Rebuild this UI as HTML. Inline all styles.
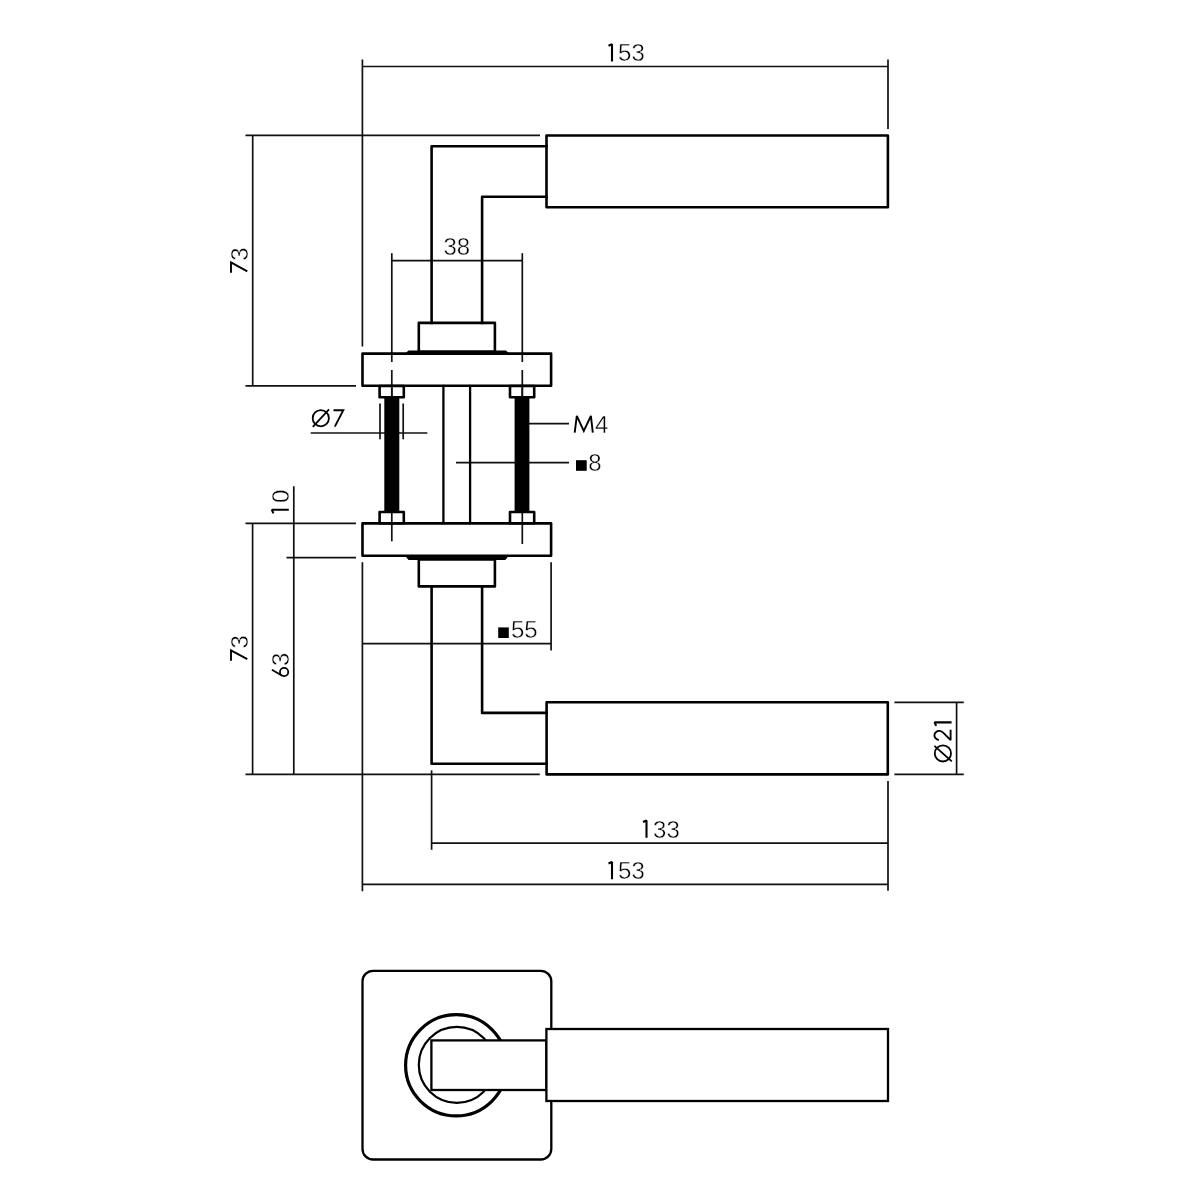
<!DOCTYPE html>
<html><head><meta charset="utf-8">
<style>
html,body{margin:0;padding:0;background:#fff;width:1200px;height:1200px;overflow:hidden}
svg{display:block;filter:grayscale(1)}
text{font-family:"Liberation Sans",sans-serif;font-size:24px;fill:#000;stroke:#fff;stroke-width:0.4px;stroke-linejoin:round}
.g1{stroke:#000;stroke-width:2.1;fill:none;stroke-linejoin:bevel}
.g7{stroke:#000;stroke-width:1.9;fill:none;stroke-linejoin:miter;stroke-miterlimit:4}
.t{stroke:#000;stroke-width:2.6;fill:none;stroke-linecap:square;stroke-linejoin:round}
.tw{stroke:#000;stroke-width:2.3;fill:#fff}
.d{stroke:#111;stroke-width:1.7;fill:none}
</style></head><body>
<svg width="1200" height="1200" viewBox="0 0 1200 1200">
<!-- ===== dimension lines ===== -->
<g class="d">
<!-- 153 top -->
<line x1="362.4" y1="66.5" x2="888" y2="66.5"/>
<line x1="362.4" y1="59.5" x2="362.4" y2="346.5"/>
<line x1="888" y1="59.5" x2="888" y2="129"/>
<!-- 73 top -->
<line x1="252.7" y1="135.3" x2="252.7" y2="385.8"/>
<line x1="245.5" y1="135.3" x2="540" y2="135.3"/>
<line x1="245.5" y1="385.8" x2="356" y2="385.8"/>
<!-- 38 -->
<line x1="391.8" y1="260.7" x2="522.3" y2="260.7"/>
<line x1="391.8" y1="253.2" x2="391.8" y2="362"/>
<line x1="391.8" y1="370" x2="391.8" y2="397"/>
<line x1="522.3" y1="253.2" x2="522.3" y2="362"/>
<line x1="522.3" y1="370" x2="522.3" y2="397"/>
<!-- Ø7 -->
<line x1="310.7" y1="433" x2="427.3" y2="433"/>
<line x1="380" y1="403.5" x2="380" y2="439.3"/>
<line x1="403.2" y1="403.5" x2="403.2" y2="439.3"/>
<!-- M4 -->
<line x1="529" y1="423.6" x2="569" y2="423.6"/>
<!-- ■8 -->
<line x1="456" y1="462.6" x2="569" y2="462.6"/>
<!-- lower centre lines through nuts -->
<line x1="391.8" y1="512" x2="391.8" y2="541.3"/>
<line x1="522.3" y1="512" x2="522.3" y2="544"/>
<!-- 10 / 63 -->
<line x1="293.8" y1="486.3" x2="293.8" y2="774.4"/>
<line x1="245.5" y1="523.3" x2="356" y2="523.3"/>
<line x1="286.5" y1="557.7" x2="356" y2="557.7"/>
<!-- 73 lower -->
<line x1="252.6" y1="523.3" x2="252.6" y2="774.4"/>
<line x1="245.5" y1="774.4" x2="539.8" y2="774.4"/>
<!-- ■55 -->
<line x1="362.4" y1="562.3" x2="362.4" y2="891.3"/>
<line x1="551.1" y1="562.3" x2="551.1" y2="650.5"/>
<line x1="362.4" y1="643.6" x2="551.1" y2="643.6"/>
<!-- Ø21 -->
<line x1="894.4" y1="702.3" x2="963.8" y2="702.3"/>
<line x1="894.4" y1="774.3" x2="963.8" y2="774.3"/>
<line x1="956.6" y1="702.3" x2="956.6" y2="774.3"/>
<!-- 133 / 153 bottom -->
<line x1="431.6" y1="770.3" x2="431.6" y2="849.8"/>
<line x1="888" y1="781" x2="888" y2="890.7"/>
<line x1="431.6" y1="843.1" x2="888" y2="843.1"/>
<line x1="362.4" y1="884.3" x2="888" y2="884.3"/>
</g>

<!-- ===== object lines (upper handle) ===== -->
<g class="t">
<rect x="546.5" y="135.5" width="341.4" height="71.75"/>
<polyline points="431.6,322.9 431.6,146.3 546.5,146.3"/>
<polyline points="482.1,322.9 482.1,196.8 546.5,196.8"/>
<rect x="418.8" y="322.9" width="76.1" height="28.8"/>
<rect x="362.5" y="353.6" width="188.6" height="32.1"/>
<!-- nuts -->
<rect x="379.6" y="386" width="24.2" height="11.3"/>
<rect x="510" y="386" width="24.2" height="11.3"/>
<rect x="379.6" y="512" width="24.2" height="11.3"/>
<rect x="510" y="512" width="24.2" height="11.3"/>
<!-- spindle -->
<line x1="443.4" y1="386" x2="443.4" y2="523" style="stroke-width:2.3"/>
<line x1="470.1" y1="386" x2="470.1" y2="523" style="stroke-width:2.3"/>
<!-- lower rosette -->
<rect x="362.5" y="523.35" width="188.6" height="32.4"/>
<rect x="418.8" y="559.5" width="76.1" height="26.9"/>
<polyline points="431.6,586.4 431.6,763.8 546.5,763.8"/>
<polyline points="482.1,586.4 482.1,712.9 546.5,712.9"/>
<rect x="546.6" y="702.3" width="341.2" height="72.1"/>
</g>
<!-- washers -->
<polygon points="404.5,354 408.5,350.6 506,350.6 510,354" fill="#000"/>
<polygon points="404.8,555.5 509,555.5 505.3,560 408.6,560" fill="#000"/>
<!-- screws -->
<rect x="384.3" y="397" width="15" height="115.3" fill="#000"/>
<rect x="514.6" y="397" width="14.8" height="115.3" fill="#000"/>
<!-- centre lines over nuts -->
<g class="d">
<line x1="391.8" y1="386" x2="391.8" y2="397"/>
<line x1="522.3" y1="386" x2="522.3" y2="397"/>
</g>

<!-- ===== bottom view ===== -->
<rect x="362.5" y="970.8" width="188.8" height="188.7" rx="10.5" ry="10.5" fill="none" stroke="#000" stroke-width="2.3"/>
<circle cx="456.2" cy="1065.3" r="50.6" fill="none" stroke="#000" stroke-width="3.2"/>
<circle cx="456.8" cy="1064.8" r="38.0" fill="none" stroke="#000" stroke-width="2.2"/>
<rect x="431.4" y="1040.4" width="115" height="49.6" class="tw"/>
<rect x="546.4" y="1029" width="341.6" height="72" class="tw"/>

<!-- ===== texts ===== -->
<path d="M608.50,45.70 L612.00,44.20 L612.00,61.50" class="g1"/>
<text x="618.1" y="61.4">53</text>
<path d="M608.50,863.50 L612.00,862.00 L612.00,879.20" class="g1"/>
<text x="618.1" y="879">53</text>
<path d="M643.00,822.00 L646.50,820.50 L646.50,837.70" class="g1"/>
<text x="653.1" y="837.6">33</text>
<text x="443.4" y="255.1">38</text>
<circle cx="320.8" cy="418.2" r="8.1" class="g1" style="stroke-width:1.8"/>
<line x1="312.8" y1="426.8" x2="329" y2="409.4" class="g1" style="stroke-width:1.8"/>
<path d="M333.5,410.3 L343.3,410.3 L334.8,426.6" class="g7"/>
<polyline points="574.7,432.6 576.8,415.9 583.8,431.0 590.9,415.9 592.8,432.6" class="g1" style="stroke-width:1.9;stroke-linejoin:miter;stroke-miterlimit:3"/>
<text x="595" y="432.6">4</text>
<rect x="576" y="460.2" width="10.7" height="10.6" fill="#000"/>
<text x="588.2" y="470.9">8</text>
<rect x="498.2" y="627.4" width="10.6" height="10.6" fill="#000"/>
<text x="511" y="638.1">55</text>
<path d="M231,272.8 L231,262.4 L247.3,271.3" class="g7"/>
<text transform="translate(247.7,260.7) rotate(-90)">3</text>
<path d="M231,660.7 L231,650.3 L247.3,659.2" class="g7"/>
<text transform="translate(247.7,648.5) rotate(-90)">3</text>
<circle cx="284.1" cy="672.05" r="4.15" class="g1" style="stroke-width:1.8"/>
<line x1="271.9" y1="669.8" x2="282.2" y2="675.7" class="g1" style="stroke-width:1.8"/>
<text transform="translate(289,666) rotate(-90)">3</text>
<text transform="translate(289,503.1) rotate(-90)">0</text>
<path d="M273.40,513.30 L271.90,509.80 L288.80,509.80" class="g1"/>
<circle cx="942.9" cy="753.4" r="8.1" class="g1" style="stroke-width:1.8"/>
<line x1="934.4" y1="745.8" x2="951.8" y2="761.4" class="g1" style="stroke-width:1.8"/>
<path d="M938.8,740.1 C936.2,739.2 934.4,737.4 934.4,735.3 C934.4,732.4 937,730.6 939.8,730.9 C941.3,731.1 942.4,732 943.4,732.9 L950.6,740.2 L950.6,729.8" class="g7" style="stroke-linejoin:bevel"/>
<path d="M936.10,725.90 L934.60,722.40 L951.60,722.40" class="g1"/>
</svg>
</body></html>
